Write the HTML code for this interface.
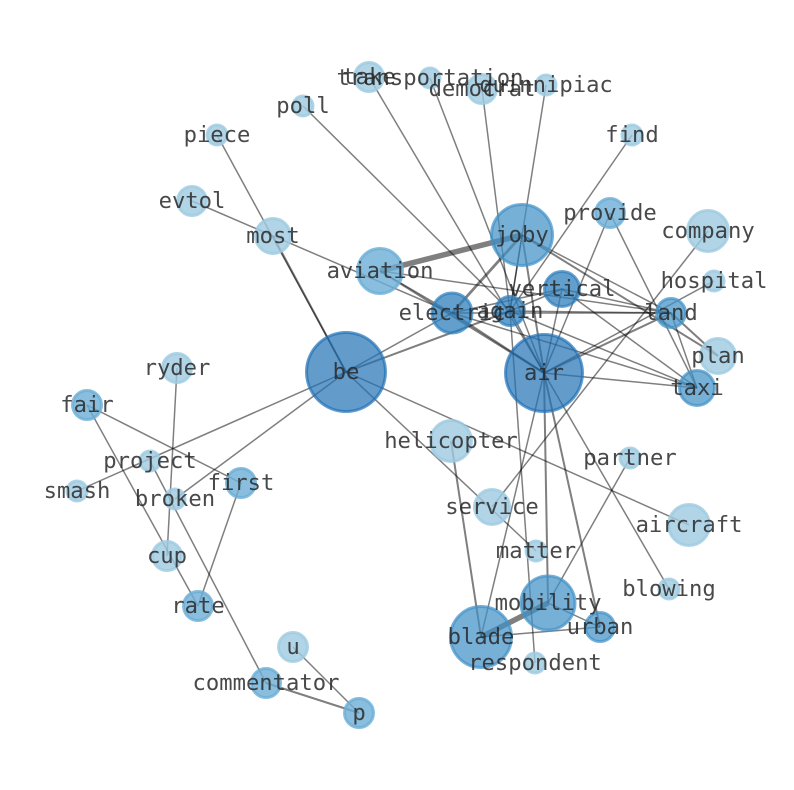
<!DOCTYPE html>
<html><head><meta charset="utf-8"><style>
html,body{margin:0;padding:0;background:#fff;width:794px;height:790px;overflow:hidden}
svg{display:block}
.e line{stroke:#000;stroke-opacity:.5;stroke-width:1.5}
.e .m{stroke-width:2}
.e .t{stroke-width:2.8}
.e .b{stroke-width:5.5}
circle{stroke-width:3}
.l{fill:#9ecae1;stroke:#9ecae1;fill-opacity:.8;stroke-opacity:.8}
.n{fill:#6baed6;stroke:#6baed6;fill-opacity:.8;stroke-opacity:.8}
.o{fill:#4292c6;stroke:#4292c6;fill-opacity:.72;stroke-opacity:.72}
.v{fill:#2f7fbc;stroke:#2f7fbc;fill-opacity:.75;stroke-opacity:.72}
.d{fill:#2171b5;stroke:#2171b5;fill-opacity:.7;stroke-opacity:.7}
text{font-family:"DejaVu Sans Mono","Liberation Mono",monospace;font-size:22.2px;fill:#262626;fill-opacity:.84;text-anchor:middle}
</style></head><body>
<svg width="794" height="790" viewBox="0 0 794 790" xmlns="http://www.w3.org/2000/svg">
<g class="e">
<line x1="380" y1="271" x2="522" y2="235" class="b"/>
<line x1="548" y1="603" x2="481" y2="637" class="b"/>
<line x1="346" y1="372" x2="273" y2="236" class="m"/>
<line x1="346" y1="372" x2="217" y2="135"/>
<line x1="192" y1="201" x2="452" y2="313"/>
<line x1="303" y1="106" x2="510" y2="311"/>
<line x1="369" y1="77" x2="544" y2="373"/>
<line x1="430" y1="78" x2="544" y2="373"/>
<line x1="482" y1="89" x2="510" y2="311"/>
<line x1="546" y1="85" x2="510" y2="311"/>
<line x1="632" y1="135" x2="510" y2="311"/>
<line x1="610" y1="213" x2="544" y2="373"/>
<line x1="610" y1="213" x2="697" y2="388"/>
<line x1="708" y1="231" x2="492" y2="507"/>
<line x1="714" y1="281" x2="544" y2="373"/>
<line x1="671" y1="313" x2="697" y2="388"/>
<line x1="671" y1="313" x2="718" y2="356" class="m"/>
<line x1="522" y1="235" x2="718" y2="356" class="m"/>
<line x1="522" y1="235" x2="671" y2="313"/>
<line x1="562" y1="289" x2="671" y2="313"/>
<line x1="562" y1="289" x2="697" y2="388"/>
<line x1="452" y1="313" x2="697" y2="388"/>
<line x1="544" y1="373" x2="697" y2="388"/>
<line x1="544" y1="373" x2="671" y2="313" class="m"/>
<line x1="510" y1="311" x2="671" y2="313"/>
<line x1="452" y1="313" x2="671" y2="313"/>
<line x1="380" y1="271" x2="671" y2="313"/>
<line x1="380" y1="271" x2="544" y2="373" class="m"/>
<line x1="380" y1="271" x2="452" y2="313"/>
<line x1="522" y1="235" x2="452" y2="313" class="t"/>
<line x1="522" y1="235" x2="544" y2="373" class="m"/>
<line x1="522" y1="235" x2="510" y2="311"/>
<line x1="346" y1="372" x2="452" y2="313"/>
<line x1="346" y1="372" x2="510" y2="311" class="m"/>
<line x1="346" y1="372" x2="689" y2="525"/>
<line x1="346" y1="372" x2="536" y2="551"/>
<line x1="346" y1="372" x2="77" y2="491"/>
<line x1="346" y1="372" x2="175" y2="499"/>
<line x1="452" y1="313" x2="544" y2="373" class="m"/>
<line x1="452" y1="313" x2="562" y2="289"/>
<line x1="510" y1="311" x2="562" y2="289"/>
<line x1="510" y1="311" x2="544" y2="373"/>
<line x1="510" y1="311" x2="535" y2="663"/>
<line x1="510" y1="311" x2="697" y2="388"/>
<line x1="562" y1="289" x2="544" y2="373"/>
<line x1="544" y1="373" x2="548" y2="603" class="m"/>
<line x1="544" y1="373" x2="600" y2="627" class="m"/>
<line x1="544" y1="373" x2="481" y2="637"/>
<line x1="544" y1="373" x2="669" y2="589"/>
<line x1="630" y1="458" x2="548" y2="603"/>
<line x1="451" y1="441" x2="481" y2="637" class="m"/>
<line x1="481" y1="637" x2="600" y2="627"/>
<line x1="548" y1="603" x2="600" y2="627"/>
<line x1="177" y1="368" x2="167" y2="556"/>
<line x1="87" y1="405" x2="241" y2="483"/>
<line x1="87" y1="405" x2="198" y2="606"/>
<line x1="241" y1="483" x2="198" y2="606"/>
<line x1="150" y1="461" x2="266" y2="683"/>
<line x1="293" y1="647" x2="359" y2="713"/>
<line x1="266" y1="683" x2="359" y2="713" class="m"/>
</g>
<g>
<circle cx="346" cy="372" r="39.5" class="d"/>
<circle cx="544" cy="373" r="38.5" class="d"/>
<circle cx="522" cy="235" r="30.5" class="o"/>
<circle cx="481" cy="637" r="30.5" class="o"/>
<circle cx="548" cy="603" r="27" class="o"/>
<circle cx="380" cy="271" r="22.5" class="n"/>
<circle cx="452" cy="313" r="20" class="v"/>
<circle cx="510" cy="311" r="14.5" class="v"/>
<circle cx="562" cy="289" r="17.5" class="v"/>
<circle cx="671" cy="313" r="14.5" class="o"/>
<circle cx="697" cy="388" r="17.5" class="o"/>
<circle cx="718" cy="356" r="17.5" class="l"/>
<circle cx="714" cy="281" r="10" class="l"/>
<circle cx="708" cy="231" r="20.5" class="l"/>
<circle cx="610" cy="213" r="14.5" class="n"/>
<circle cx="632" cy="135" r="10" class="l"/>
<circle cx="546" cy="85" r="10" class="l"/>
<circle cx="482" cy="89" r="14.5" class="l"/>
<circle cx="430" cy="78" r="10" class="l"/>
<circle cx="369" cy="77" r="14.5" class="l"/>
<circle cx="303" cy="106" r="10" class="l"/>
<circle cx="217" cy="135" r="10" class="l"/>
<circle cx="192" cy="201" r="14.5" class="l"/>
<circle cx="273" cy="236" r="17.5" class="l"/>
<circle cx="177" cy="368" r="14.5" class="l"/>
<circle cx="87" cy="405" r="14.5" class="n"/>
<circle cx="150" cy="461" r="10" class="l"/>
<circle cx="77" cy="491" r="10" class="l"/>
<circle cx="175" cy="499" r="10" class="l"/>
<circle cx="241" cy="483" r="14.5" class="n"/>
<circle cx="167" cy="556" r="14.5" class="l"/>
<circle cx="198" cy="606" r="14.5" class="n"/>
<circle cx="293" cy="647" r="14.5" class="l"/>
<circle cx="266" cy="683" r="14.5" class="n"/>
<circle cx="359" cy="713" r="14.5" class="n"/>
<circle cx="451" cy="441" r="20.5" class="l"/>
<circle cx="492" cy="507" r="17.5" class="l"/>
<circle cx="536" cy="551" r="10" class="l"/>
<circle cx="630" cy="458" r="10" class="l"/>
<circle cx="689" cy="525" r="20.5" class="l"/>
<circle cx="669" cy="589" r="10" class="l"/>
<circle cx="600" cy="627" r="14.5" class="o"/>
<circle cx="535" cy="663" r="10" class="l"/>
</g>
<g>
<text x="346" y="379">be</text>
<text x="544" y="380">air</text>
<text x="522" y="242">joby</text>
<text x="481" y="644">blade</text>
<text x="548" y="610">mobility</text>
<text x="380" y="278">aviation</text>
<text x="452" y="320">electric</text>
<text x="510" y="318">again</text>
<text x="562" y="296">vertical</text>
<text x="671" y="320">land</text>
<text x="697" y="395">taxi</text>
<text x="718" y="363">plan</text>
<text x="714" y="288">hospital</text>
<text x="708" y="238">company</text>
<text x="610" y="220">provide</text>
<text x="632" y="142">find</text>
<text x="546" y="92">quinnipiac</text>
<text x="482" y="96">democrat</text>
<text x="430" y="85">transportation</text>
<text x="369" y="84">take</text>
<text x="303" y="113">poll</text>
<text x="217" y="142">piece</text>
<text x="192" y="208">evtol</text>
<text x="273" y="243">most</text>
<text x="177" y="375">ryder</text>
<text x="87" y="412">fair</text>
<text x="150" y="468">project</text>
<text x="77" y="498">smash</text>
<text x="175" y="506">broken</text>
<text x="241" y="490">first</text>
<text x="167" y="563">cup</text>
<text x="198" y="613">rate</text>
<text x="293" y="654">u</text>
<text x="266" y="690">commentator</text>
<text x="359" y="720">p</text>
<text x="451" y="448">helicopter</text>
<text x="492" y="514">service</text>
<text x="536" y="558">matter</text>
<text x="630" y="465">partner</text>
<text x="689" y="532">aircraft</text>
<text x="669" y="596">blowing</text>
<text x="600" y="634">urban</text>
<text x="535" y="670">respondent</text>
</g>
</svg>
</body></html>
